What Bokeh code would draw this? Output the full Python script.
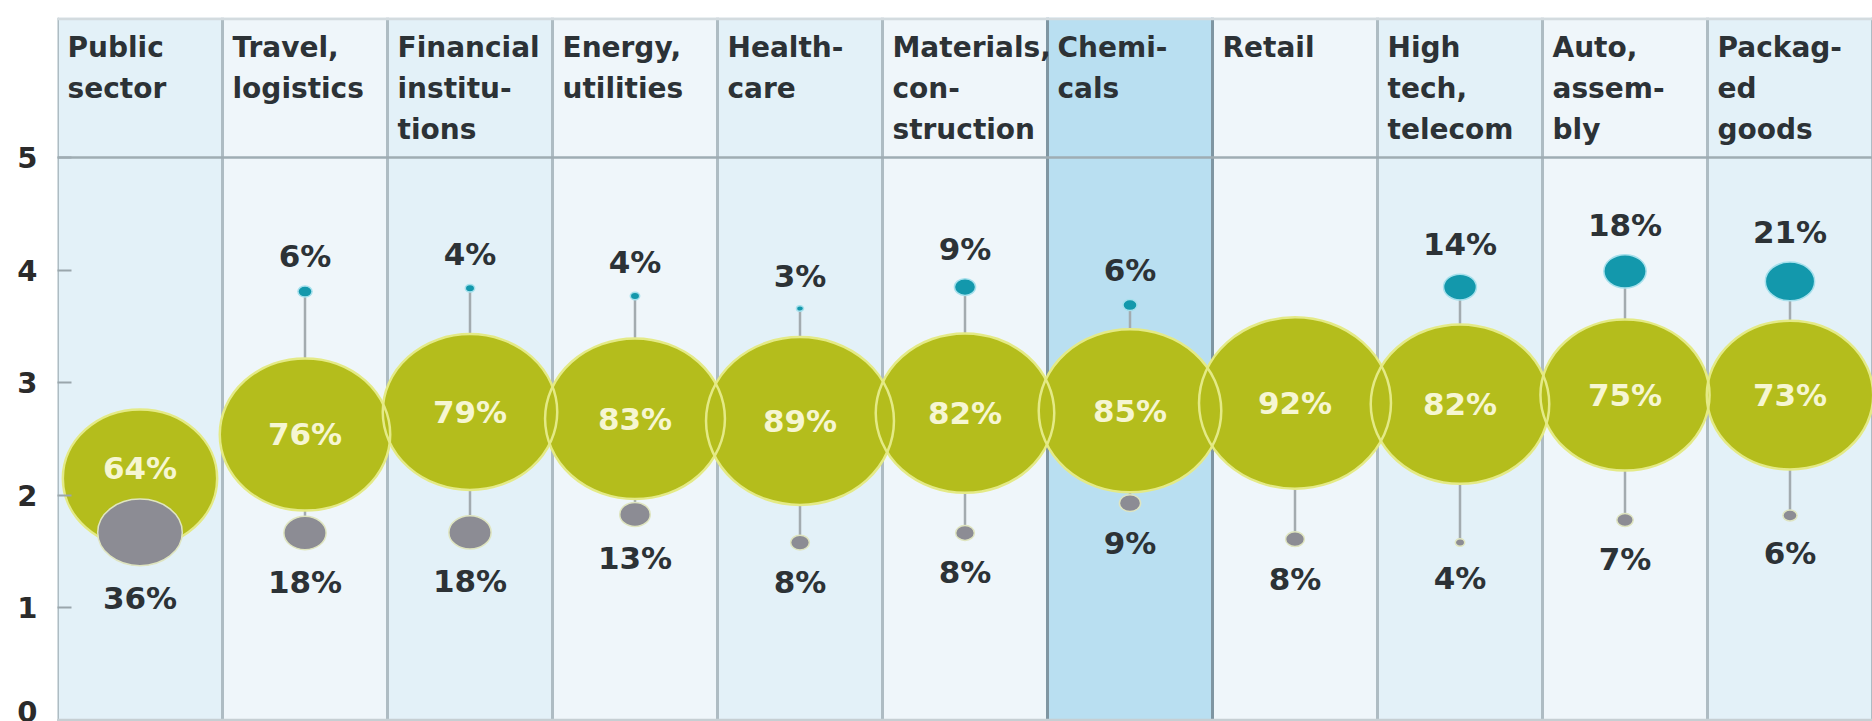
import math
from bokeh.plotting import figure
from bokeh.models import ColumnDataSource, FixedTicker, Span, Range1d
from bokeh.embed import file_html
from bokeh.resources import INLINE
from bokeh.core.properties import value

# ---------------- data ----------------
sectors = ["Public\nsector", "Travel,\nlogistics", "Financial\ninstitu-\ntions",
           "Energy,\nutilities", "Health-\ncare", "Materials,\ncon-\nstruction",
           "Chemi-\ncals", "Retail", "High\ntech,\ntelecom", "Auto,\nassem-\nbly",
           "Packag-\ned\ngoods"]
highlight_sector = "Chemi-\ncals"

overall_pct = [64, 76, 79, 83, 89, 82, 85, 92, 82, 75, 73]
overall_score = [2.15, 2.54, 2.74, 2.68, 2.66, 2.73, 2.75, 2.82, 2.81, 2.89, 2.89]

high_pct = [None, 6, 4, 4, 3, 9, 6, None, 14, 18, 21]
high_score = [None, 3.81, 3.84, 3.77, 3.66, 3.85, 3.69, None, 3.85, 3.99, 3.90]

low_pct = [36, 18, 18, 13, 8, 8, 9, 8, 4, 7, 6]
low_score = [1.67, 1.665, 1.67, 1.83, 1.58, 1.665, 1.93, 1.61, 1.58, 1.78, 1.82]

y_ticks = [0, 1, 2, 3, 4, 5]

# ---------------- style ----------------
FONT = value("DejaVu Sans")
Y_TOP = 6.245
GREEN = "#b4bd1c"
GREEN_RIM = "#e4ea86"
TEAL = "#1398ac"
GRAY = "#8c8c94"
TEXT = "#2c3236"

n = len(sectors)
xc = [i + 0.5 for i in range(n)]


def big_h(p):
    return 1.2 * p + 61


def small_h(p):
    return 1.85 * p


def small_w(p):
    return 2.35 * p


p = figure(width=1872, height=721, x_range=Range1d(0, n), y_range=Range1d(-0.01, Y_TOP),
           output_backend="svg", toolbar_location=None,
           min_border_left=57, min_border_right=0, min_border_top=17, min_border_bottom=0)
p.xaxis.visible = False
p.grid.visible = False
p.outline_line_color = None
p.background_fill_color = "white"
p.border_fill_color = "white"

# column backgrounds
col_colors = []
for i, s in enumerate(sectors):
    if s == highlight_sector:
        col_colors.append("#b9dff1")
    elif i % 2 == 0:
        col_colors.append("#e3f1f8")
    else:
        col_colors.append("#eff6fa")
p.quad(left=list(range(n)), right=list(range(1, n + 1)), bottom=0, top=Y_TOP,
       fill_color=col_colors, line_color=None)

# header/body separators
p.add_layout(Span(location=5, dimension="width", line_color="#9fadb3", line_width=2.5))
p.add_layout(Span(location=Y_TOP - 0.012, dimension="width", line_color="#d3dbdf", line_width=3))
p.add_layout(Span(location=0, dimension="width", line_color="#c6cfd3", line_width=3))

# vertical separators
hi = sectors.index(highlight_sector)
sep_x = list(range(n + 1))
sep_col = ["#7f96a2" if (x == hi or x == hi + 1) else "#aebcc3" for x in sep_x]
p.segment(x0=sep_x, x1=sep_x, y0=0, y1=Y_TOP, line_color=sep_col, line_width=3)

# header text
p.text(x=list(range(n)), y=[Y_TOP] * n, text=sectors, x_offset=10, y_offset=13,
       text_font=FONT, text_font_style="bold", text_font_size="28px",
       text_color=TEXT, text_baseline="top", text_align="left", text_line_height=1.25)

# connectors
y0s = [h if h is not None else o for h, o in zip(high_score, overall_score)]
p.segment(x0=xc, x1=xc, y0=y0s, y1=low_score, line_color="#a3abaf", line_width=2.5)

# big bubbles
gh = [big_h(v) for v in overall_pct]
gw = [1.12 * h for h in gh]
src_g = ColumnDataSource(dict(x=xc, y=overall_score, w=gw, h=gh,
                              lab=[f"{v}%" for v in overall_pct],
                              off=[-max(0.0, (small_h(l) - 46) / 2) for l in low_pct]))
p.ellipse(x="x", y="y", width="w", height="h", width_units="screen", height_units="screen",
          source=src_g, fill_color=GREEN, line_color=None)
p.ellipse(x="x", y="y", width="w", height="h", width_units="screen", height_units="screen",
          source=src_g, fill_color=None, line_color=GREEN_RIM, line_width=2.5)

# low (gray) bubbles
src_l = ColumnDataSource(dict(x=xc, y=low_score,
                              w=[small_w(v) for v in low_pct],
                              h=[small_h(v) for v in low_pct],
                              lab=[f"{v}%" for v in low_pct],
                              off=[small_h(v) / 2 + 32 for v in low_pct]))
p.ellipse(x="x", y="y", width="w", height="h", width_units="screen", height_units="screen",
          source=src_l, fill_color=GRAY, line_color="#dfe5c0", line_width=1.5)

# high (teal) bubbles
hx, hy, hp = [], [], []
for x, s, v in zip(xc, high_score, high_pct):
    if v is not None:
        hx.append(x); hy.append(s); hp.append(v)
src_h = ColumnDataSource(dict(x=hx, y=hy,
                              w=[small_w(v) for v in hp],
                              h=[small_h(v) for v in hp],
                              lab=[f"{v}%" for v in hp],
                              off=[-(small_h(v) / 2 + 30) for v in hp]))
p.ellipse(x="x", y="y", width="w", height="h", width_units="screen", height_units="screen",
          source=src_h, fill_color=TEAL, line_color="#a6e0ec", line_width=1.5)

# labels
p.text(x="x", y="y", text="lab", y_offset="off", source=src_g, text_font=FONT,
       text_font_style="bold", text_font_size="31px", text_color="#f6f6d2",
       text_align="center", text_baseline="middle")
p.text(x="x", y="y", text="lab", y_offset="off", source=src_l, text_font=FONT,
       text_font_style="bold", text_font_size="31px", text_color=TEXT,
       text_align="center", text_baseline="middle")
p.text(x="x", y="y", text="lab", y_offset="off", source=src_h, text_font=FONT,
       text_font_style="bold", text_font_size="31px", text_color=TEXT,
       text_align="center", text_baseline="middle")

# y axis
ax = p.yaxis[0]
ax.ticker = FixedTicker(ticks=y_ticks)
ax.axis_line_color = None
ax.major_tick_in = 14
ax.major_tick_out = 0
ax.minor_tick_line_color = None
ax.major_tick_line_color = "#9aa6ac"
ax.major_tick_line_width = 2
ax.major_label_standoff = 20
ax.major_label_text_font = "DejaVu Sans"
ax.major_label_text_font_style = "bold"
ax.major_label_text_font_size = "29px"
ax.major_label_text_color = "#2b2b2b"

open("out.html", "w").write(file_html(p, INLINE))
